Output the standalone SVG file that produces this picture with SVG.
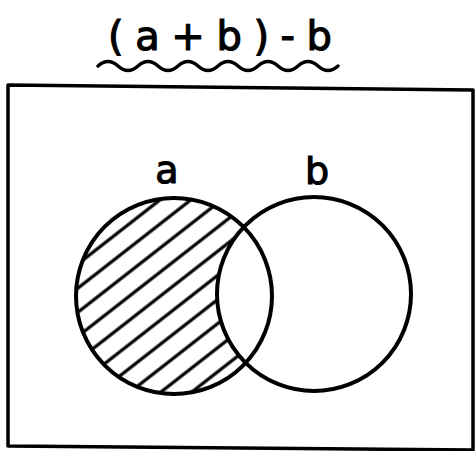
<svg xmlns="http://www.w3.org/2000/svg" width="475" height="451" viewBox="0 0 475 451">
<style>
.ln{fill:none;stroke:#000;stroke-linecap:round;stroke-linejoin:round}
.lbl{font-family:"DejaVu Sans","Liberation Sans",sans-serif;fill:#000;stroke:#000;stroke-width:1.2}
</style>
<defs>
<pattern id="hatch" width="19" height="19" patternUnits="userSpaceOnUse" patternTransform="rotate(-38)">
<line x1="-2" y1="9" x2="21" y2="9" stroke="#000" stroke-width="3.2"/>
</pattern>
<clipPath id="clipA"><circle cx="174" cy="296" r="98"/></clipPath>
</defs>
<rect width="475" height="451" fill="#fff"/>
<g id="title">
<text class="lbl" x="108" y="50" font-size="40" textLength="224" lengthAdjust="spacing">(a+b)-b</text>
<path class="ln" stroke-width="3.5" d="M98,66 q10,-9 20,0 t20,0 t20,0 t20,0 t20,0 t20,0 t20,0 t20,0 t20,0 t20,0 t20,0 t20,0"/>
</g>
<g id="universe">
<path class="ln" stroke-width="3.5" d="M8,85 L473,90 L473,450 L8,446 Z"/>
</g>
<g id="set-a">
<rect x="70" y="190" width="210" height="210" fill="url(#hatch)" clip-path="url(#clipA)"/>
</g>
<g id="set-b">
<circle cx="314" cy="294" r="97" fill="#fff"/>
</g>
<g id="outlines">
<circle class="ln" cx="174" cy="296" r="98" stroke-width="4"/>
<circle class="ln" cx="314" cy="294" r="97" stroke-width="4"/>
<text class="lbl" x="167" y="183" font-size="38" text-anchor="middle">a</text>
<text class="lbl" x="317" y="184" font-size="38" text-anchor="middle">b</text>
</g>
</svg>
